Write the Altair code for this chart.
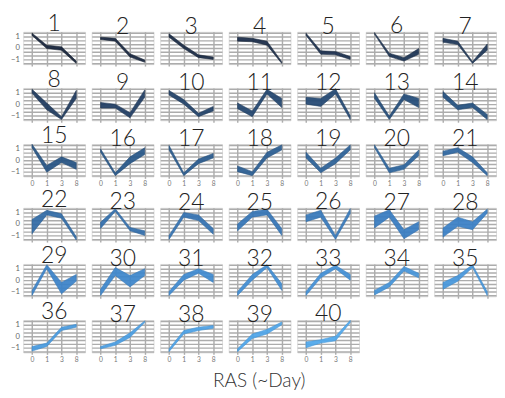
import altair as alt
import pandas as pd

days = ["0", "1", "3", "8"]
clusters = list(range(1, 41))

# lower / upper edge of each cluster's band at days 0,1,3,8
lower = [
    [1.10, -0.05, -0.20, -1.35], [0.75, 0.60, -0.80, -1.25], [0.95, -0.05, -0.85, -1.00],
    [0.60, 0.55, 0.25, -1.35], [1.10, -0.55, -0.60, -1.00], [1.20, -0.75, -1.15, -0.55],
    [0.50, 0.30, -1.35, -0.20],
    [0.95, -0.50, -1.35, 0.50], [-0.35, -0.35, -1.20, 0.60], [0.80, 0.00, -1.10, -0.60],
    [-0.40, -1.10, 0.90, -0.30], [0.00, -0.20, 0.90, -1.35], [0.50, -1.35, 0.40, -0.30],
    [0.60, -0.50, -0.30, -1.35],
    [1.10, -1.05, -0.20, -0.80], [0.70, -1.35, -0.30, 0.50], [0.90, -1.35, -0.30, 0.20],
    [-1.00, -1.35, 0.20, 0.90], [0.20, -1.10, -0.30, 0.90], [1.10, -1.10, -0.80, 0.40],
    [0.40, 0.70, -0.20, -1.35],
    [-0.85, 0.80, 0.50, -1.40], [-0.40, 1.10, -0.60, -1.00], [-1.35, 0.60, 0.30, -0.90],
    [-0.60, 0.60, 0.80, -1.00], [0.20, 0.60, -1.35, 0.90], [-0.35, 0.60, -1.30, -0.50],
    [-1.15, -0.20, -0.50, 0.95],
    [-1.35, 1.00, -1.20, -0.10], [-1.35, 0.40, -0.60, 0.40], [-1.35, 0.00, 0.60, -0.20],
    [-1.35, 0.00, 1.10, -0.90], [-1.35, 0.20, 1.00, 0.00], [-1.30, -0.60, 0.80, 0.20],
    [-0.80, -0.10, 1.10, -1.35],
    [-1.30, -0.90, 0.50, 0.80], [-1.10, -0.80, -0.10, 1.20], [-1.35, 0.20, 0.50, 0.70],
    [-1.35, -0.20, 0.20, 1.00], [-1.00, -0.60, -0.40, 1.20],
]
upper = [
    [1.30, 0.25, 0.10, -1.15], [0.95, 0.85, -0.50, -1.05], [1.25, 0.25, -0.60, -0.80],
    [0.95, 0.85, 0.60, -1.20], [1.30, -0.25, -0.30, -0.75], [1.35, -0.45, -0.85, -0.05],
    [0.85, 0.60, -1.20, 0.35],
    [1.30, 0.10, -1.10, 1.20], [0.15, 0.00, -0.75, 1.25], [1.20, 0.40, -0.80, -0.20],
    [0.10, -0.60, 1.30, 0.50], [0.60, 0.50, 1.35, -1.00], [1.00, -1.05, 0.90, 0.50],
    [1.10, -0.10, 0.10, -0.90],
    [1.40, -0.45, 0.30, -0.20], [1.00, -1.10, 0.30, 1.10], [1.30, -1.10, 0.10, 0.60],
    [-0.50, -1.00, 0.70, 1.35], [0.70, -0.70, 0.20, 1.35], [1.35, -0.70, -0.40, 0.90],
    [0.80, 1.10, 0.30, -1.10],
    [0.40, 1.20, 0.90, -1.10], [0.15, 1.35, -0.30, -0.60], [-1.00, 1.00, 0.80, -0.40],
    [0.00, 1.10, 1.30, -0.40], [0.80, 1.20, -1.00, 1.35], [0.70, 1.25, -0.50, 0.20],
    [-0.35, 0.60, 0.20, 1.30],
    [-0.90, 1.35, -0.20, 0.50], [-0.80, 1.10, 0.40, 1.00], [-1.00, 0.50, 1.00, 0.50],
    [-1.00, 0.50, 1.35, -0.30], [-1.00, 0.60, 1.30, 0.50], [-0.90, -0.20, 1.20, 0.60],
    [-0.20, 0.40, 1.35, -1.00],
    [-0.90, -0.60, 0.80, 1.05], [-0.90, -0.50, 0.30, 1.35], [-1.10, 0.50, 0.80, 0.95],
    [-1.10, 0.20, 0.60, 1.25], [-0.50, -0.30, 0.00, 1.40],
]

y_grid = [-4 / 3, -1, -2 / 3, -1 / 3, 0, 1 / 3, 2 / 3, 1, 4 / 3]
layout_rows = [list(range(1, 8)), list(range(8, 15)), list(range(15, 22)),
               list(range(22, 29)), list(range(29, 36)), list(range(36, 41))]
label_rows = {2, 5}

rows = []
for c, lo, hi in zip(clusters, lower, upper):
    for d, a, b in zip(days, lo, hi):
        rows.append({"cluster": c, "day": d, "lo": a, "hi": b})
df = pd.DataFrame(rows)

GRID = "#acacac"
W, H = 65, 34
color_dom = [1, 14, 28, 40]
fill_rng = ["#15223a", "#24507e", "#3a80c6", "#50a8ec"]
stroke_rng = ["#0b1524", "#1a3f66", "#2d6eae", "#3b92d6"]


def panel(c, first_col, show_x):
    return alt.Chart(df).transform_filter(alt.datum.cluster == c).mark_area(
        opacity=0.93, strokeWidth=0.6
    ).encode(
        x=alt.X("day:O", sort=days, scale=alt.Scale(type="point", padding=0.6),
                axis=alt.Axis(title=None, labelAngle=0, labels=show_x, labelFontSize=7,
                              labelColor="#777", grid=True, gridColor=GRID, gridWidth=1.5,
                              domain=False, tickColor=GRID, tickSize=2, tickWidth=1.5,
                              labelPadding=2, minExtent=0)),
        y=alt.Y("lo:Q", scale=alt.Scale(domain=[-1.42, 1.42], nice=False, zero=False),
                axis=alt.Axis(title=None, values=y_grid, labelOverlap=False,
                              labels=first_col,
                              labelExpr="abs(datum.value - round(datum.value)) < 0.01 ? format(datum.value, 'd') : ''",
                              labelFontSize=8, labelColor="#666", grid=True, gridColor=GRID,
                              gridWidth=1.5, domain=False, ticks=False, labelPadding=4,
                              minExtent=15 if first_col else 0,
                              maxExtent=15 if first_col else 0)),
        y2="hi:Q",
        color=alt.Color("cluster:Q", legend=None,
                        scale=alt.Scale(domain=color_dom, range=fill_rng)),
        stroke=alt.Color("cluster:Q", legend=None,
                         scale=alt.Scale(domain=color_dom, range=stroke_rng)),
    ).properties(
        width=W, height=H,
        title=alt.TitleParams(str(c), fontSize=24, font="Lato", fontWeight=300,
                              color="#222", anchor="middle", offset=-7),
    )


row_charts = []
for r, ids in enumerate(layout_rows):
    row_charts.append(alt.hconcat(
        *[panel(c, i == 0, r in label_rows) for i, c in enumerate(ids)], spacing=5
    ))

chart = alt.vconcat(*row_charts, spacing=0).properties(
    padding={"left": 0, "top": -6, "right": 0, "bottom": 0},
    title=alt.TitleParams("RAS (~Day)", orient="bottom", anchor="middle", fontSize=20,
                          font="Lato", fontWeight=300, color="#333", offset=9, dx=7,
                          frame="bounds"),
).configure_view(stroke=None).configure(font="Lato")

chart.save("out.html", embed_options={"renderer": "svg", "actions": False})
